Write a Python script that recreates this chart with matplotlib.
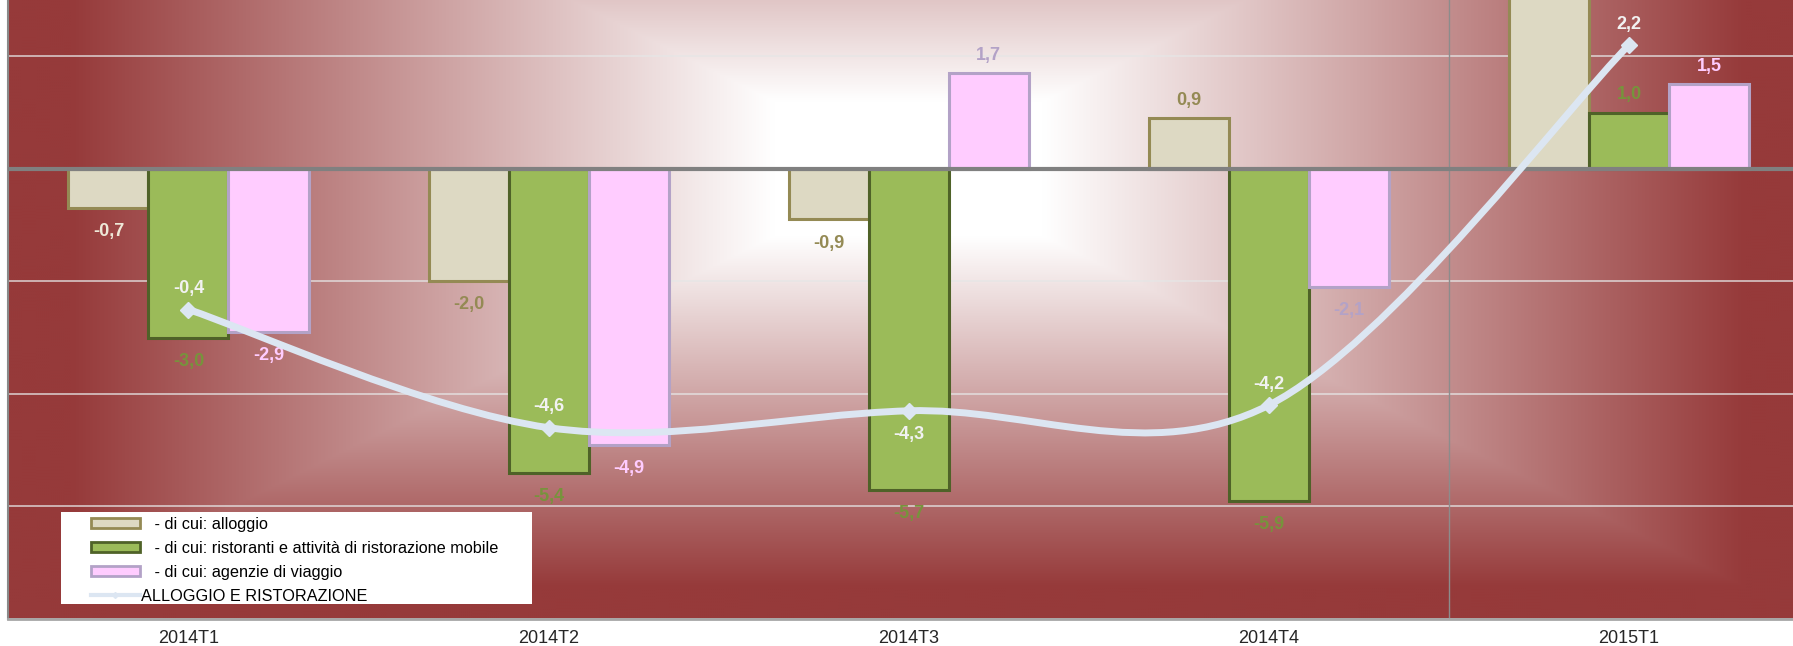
import numpy as np
import matplotlib.pyplot as plt
from matplotlib.path import Path
from matplotlib.patches import PathPatch, Patch, Rectangle
from matplotlib.lines import Line2D
from matplotlib.colors import to_rgb

plt.rcParams['font.family'] = ['Liberation Sans', 'DejaVu Sans']

# dati (variazioni %)
categorie = ['2014T1', '2014T2', '2014T3', '2014T4', '2015T1']
alloggio = [-0.7, -2.0, -0.9, 0.9, 3.9]
ristoranti = [-3.0, -5.4, -5.7, -5.9, 1.0]
agenzie = [-2.9, -4.9, 1.7, -2.1, 1.5]
totale = [-2.5, -4.6, -4.3, -4.2, 2.2]
totale_etichette = ['-0,4', '-4,6', '-4,3', '-4,2', '2,2']

nomi = ['   - di cui: alloggio',
        '   - di cui: ristoranti e attività di ristorazione mobile',
        '   - di cui: agenzie di viaggio',
        'ALLOGGIO E RISTORAZIONE']

# colori
col_all, bordo_all = '#DDD9C3', '#948A54'
col_ris, bordo_ris = '#9BBB59', '#4F6228'
col_age, bordo_age = '#FFCCFF', '#B3A2C7'
col_tot = '#DCE6F2'
lab_all = ['#EEE8D8', '#948A54', '#948A54', '#948A54', '#948A54']
lab_ris = ['#77933C'] * 5
lab_age = ['#FFCCFF', '#FFCCFF', '#B3A2C7', '#B3A2C7', '#FFCCFF']

W, H = 1793, 646
fig = plt.figure(figsize=(W / 100, H / 100), dpi=100)
ax = fig.add_axes([8.4 / W, 27 / H, 1800.6 / W, 619 / H])

# sfondo: gradiente rettangolare dal centro
gx = np.linspace(-0.5, 4.5, 900)
gy = np.linspace(-8, 8, 600)
X, Y = np.meshgrid(gx, gy)
t = np.maximum(np.abs(X - 2) / 2.5, np.abs(Y) / 8)
f = np.clip((t - 0.15) / 0.78, 0, 1)[..., None]
rosso = np.array(to_rgb('#963A3A'))
img = np.ones(3) * (1 - f) + rosso * f
ax.imshow(img, extent=(-0.5, 4.5, -8, 8), origin='lower', aspect='auto',
          zorder=0, interpolation='bilinear')

x = np.arange(len(categorie))
w = 80 / 360

ax.set_yticks(np.arange(-8, 9, 2))
ax.set_xlim(-0.5, 4.5)
ax.set_ylim(-8, 3)
ax.yaxis.grid(True, color='#E6E6E6', alpha=0.75, lw=1.3, zorder=1)
ax.set_axisbelow(True)
ax.axvline(3.5, color='#8C8C8C', lw=1, zorder=1)

serie = [(alloggio, col_all, bordo_all, lab_all, -w),
         (ristoranti, col_ris, bordo_ris, lab_ris, 0),
         (agenzie, col_age, bordo_age, lab_age, w)]
for vals, fc, ec, lc, off in serie:
    ax.bar(x + off, vals, w, color=fc, edgecolor=ec, linewidth=2.2, zorder=2)
    for xi, v, c in zip(x + off, vals, lc):
        dy = 13 if v > 0 else -17
        ax.annotate(f'{v:.1f}'.replace('.', ','), (xi, v), xytext=(0, dy),
                    textcoords='offset points', ha='center', va='center',
                    fontsize=13, fontweight='bold', color=c, zorder=4)

ax.axhline(0, color='#808080', lw=3, zorder=3)

# linea smussata (bezier tipo Excel)
P = np.column_stack([x, totale]).astype(float)
ext = np.vstack([P[0], P, P[-1]])
verts = [P[0]]
codes = [Path.MOVETO]
for i in range(len(P) - 1):
    p0, p1, p2, p3 = ext[i], ext[i + 1], ext[i + 2], ext[i + 3]
    verts += [p1 + (p2 - p0) / 6, p2 - (p3 - p1) / 6, p2]
    codes += [Path.CURVE4] * 3
ax.add_patch(PathPatch(Path(verts, codes), facecolor='none', edgecolor=col_tot,
                       lw=5, capstyle='round', zorder=5))
ax.plot(x, totale, 'D', color=col_tot, markersize=8, zorder=6)
for xi, v, s in zip(x, totale, totale_etichette):
    dy = -17 if s == '-4,3' else 15
    ax.annotate(s, (xi, v), xytext=(0, dy), textcoords='offset points',
                ha='center', va='center', fontsize=13, fontweight='bold',
                color='#F2F2F2', zorder=7)

# assi
ax.set_xticks(x)
ax.set_xticklabels(categorie, fontsize=13, color='#262626')
ax.tick_params(axis='x', length=0, pad=8)
ax.tick_params(axis='y', length=0, labelleft=False)
for s in ['top', 'right']:
    ax.spines[s].set_visible(False)
ax.spines['left'].set_color('#898989')
ax.spines['left'].set_linewidth(1.5)
ax.spines['bottom'].set_color('#A6A6A6')
ax.spines['bottom'].set_linewidth(2)

# legenda
x0 = (61 - 8.4) / 1800.6
y0 = (619 - 604) / 619
ax.add_patch(Rectangle((x0, y0), (532 - 61) / 1800.6, 92 / 619,
                       transform=ax.transAxes, facecolor='white',
                       edgecolor='none', zorder=8))
maniglie = [Patch(facecolor=col_all, edgecolor=bordo_all, lw=2),
            Patch(facecolor=col_ris, edgecolor=bordo_ris, lw=2),
            Patch(facecolor=col_age, edgecolor=bordo_age, lw=2),
            Line2D([], [], color=col_tot, lw=3, marker='D', markersize=3)]
leg = ax.legend(maniglie, nomi, loc='upper left',
                bbox_to_anchor=(x0 + 30 / 1800.6, y0 + 87 / 619),
                frameon=False, fontsize=11.7, handlelength=3.0,
                handleheight=0.55, handletextpad=0.1, labelspacing=0.55,
                borderaxespad=0, borderpad=0)
leg.set_zorder(9)

fig.savefig('out.png', dpi=100, facecolor='white')
